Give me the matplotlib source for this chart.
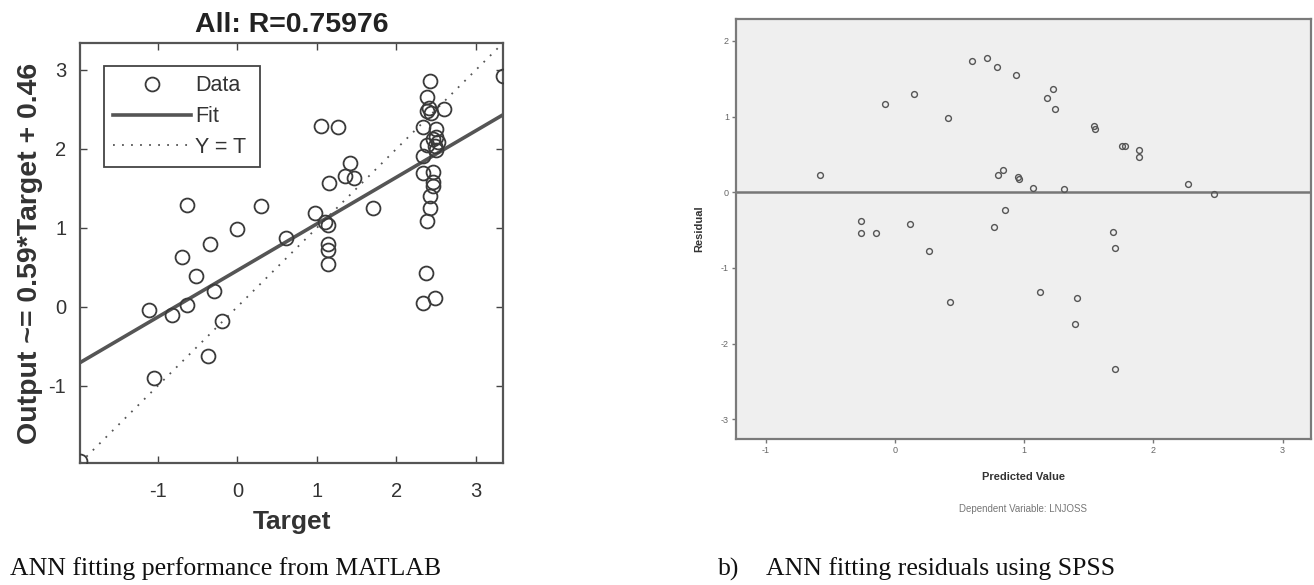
import matplotlib
matplotlib.use("Agg")
import matplotlib.pyplot as plt
from matplotlib.lines import Line2D
import numpy as np

plt.rcParams["axes.unicode_minus"] = False

# ---- Panel a: network output vs. target ----
target = [-1.98, -1.05, -1.11, -0.82, -0.63, -0.37, -0.20, -0.29, -0.52, -0.70,
          -0.35, 0.00, -0.63, 0.30, 0.61, 0.98, 1.10, 1.14, 1.14, 1.14,
          1.14, 1.15, 1.35, 1.46, 1.41, 1.05, 1.27, 1.70,
          2.42, 2.39, 2.41, 2.38, 2.43, 2.60, 2.34, 2.50, 2.50, 2.52,
          2.46, 2.48, 2.39, 2.33, 2.50, 2.34, 2.46, 2.46, 2.46, 2.42,
          2.42, 2.39, 2.37, 2.34, 2.48, 3.34]
output = [-1.95, -0.90, -0.04, -0.10, 0.02, -0.62, -0.18, 0.20, 0.39, 0.63,
          0.80, 0.99, 1.29, 1.27, 0.87, 1.19, 1.07, 1.03, 0.80, 0.72,
          0.54, 1.57, 1.65, 1.63, 1.82, 2.29, 2.28, 1.25,
          2.86, 2.65, 2.52, 2.48, 2.45, 2.50, 2.27, 2.25, 2.15, 2.09,
          2.12, 2.03, 2.05, 1.91, 1.98, 1.69, 1.71, 1.58, 1.53, 1.40,
          1.25, 1.08, 0.43, 0.05, 0.11, 2.92]
fit_slope = 0.59
fit_intercept = 0.46
r_value = 0.75976
lim_a = [-1.98, 3.34]
ticks_a = [-1, 0, 1, 2, 3]

# ---- Panel b: residuals vs. predicted value ----
predicted = [-0.58, -0.08, 0.15, 0.41, 0.60, 0.71, 0.79, 0.94, 0.80, 0.84,
             0.95, 0.96, 0.85, 0.77, -0.26, -0.26, -0.15, 0.12, 0.26, 0.43,
             1.22, 1.18, 1.24, 1.54, 1.55, 1.76, 1.78, 1.89, 1.89, 2.27,
             2.47, 1.07, 1.31, 1.69, 1.70, 1.12, 1.41, 1.39, 1.70]
residual = [0.23, 1.17, 1.30, 0.98, 1.74, 1.77, 1.65, 1.55, 0.23, 0.30,
            0.20, 0.17, -0.23, -0.46, -0.38, -0.54, -0.54, -0.42, -0.78, -1.45,
            1.36, 1.25, 1.10, 0.88, 0.83, 0.61, 0.61, 0.56, 0.46, 0.11,
            -0.02, 0.06, 0.04, -0.52, -0.73, -1.32, -1.40, -1.74, -2.33]
xlim_b = [-1.23, 3.22]
ylim_b = [-3.26, 2.29]
xticks_b = [-1, 0, 1, 2, 3]
yticks_b = [-3, -2, -1, 0, 1, 2]

fig = plt.figure(figsize=(13.14, 5.85), dpi=100)
fig.patch.set_facecolor("white")
sans = ["Liberation Sans", "DejaVu Sans"]
serif = ["Liberation Serif", "DejaVu Serif"]

# ---------------- left panel ----------------
ax1 = fig.add_axes([0.0609, 0.2085, 0.3219, 0.718])
ax1.plot(target, output, linestyle="none", marker="o", markersize=10,
         markerfacecolor="none", markeredgecolor="#3a3a3a", markeredgewidth=1.3,
         zorder=3)
xx = np.array(lim_a)
dotted = (0, (1, 4))
ax1.plot(xx, fit_slope * xx + fit_intercept, color="#555555", lw=2.6, zorder=2)
ax1.plot(xx, xx, color="#555555", lw=1.3, linestyle=dotted, zorder=2)
ax1.set_xlim(lim_a)
ax1.set_ylim(lim_a)
ax1.set_xticks(ticks_a)
ax1.set_yticks(ticks_a)
ax1.tick_params(direction="in", top=True, right=True, length=5, width=1,
                colors="#444444", labelsize=14.5)
ax1.tick_params(axis="x", pad=14)
ax1.tick_params(axis="y", pad=10)
for lab in ax1.get_xticklabels() + ax1.get_yticklabels():
    lab.set_family(sans)
    lab.set_color("#333333")
for sp in ax1.spines.values():
    sp.set_color("#555555")
    sp.set_linewidth(1.6)
ax1.set_title(f"All: R={r_value}", fontsize=20.5, fontweight="bold",
              family=sans, color="#222222", pad=8)
ax1.set_xlabel("Target", fontsize=19, fontweight="bold", family=sans,
               color="#333333", labelpad=6)
ax1.set_ylabel(f"Output ~= {fit_slope}*Target + {fit_intercept}", fontsize=20.5,
               fontweight="bold", family=sans, color="#333333", labelpad=4)

handles = [
    Line2D([], [], linestyle="none", marker="o", markersize=10,
           markerfacecolor="none", markeredgecolor="#3a3a3a", markeredgewidth=1.3),
    Line2D([], [], color="#555555", lw=2.6),
    Line2D([], [], color="#555555", lw=1.3, linestyle=dotted),
]
leg = ax1.legend(handles, ["Data", "Fit", "Y = T"], loc="upper left",
                 bbox_to_anchor=(0.057, 0.5, 0.369, 0.445), mode="expand",
                 frameon=True, fancybox=False, framealpha=1,
                 edgecolor="#444444", handlelength=3.6, handletextpad=0.2,
                 borderpad=0.42, labelspacing=0.46, borderaxespad=0,
                 prop={"family": sans, "size": 15.5})
leg.get_frame().set_linewidth(1.3)
for t in leg.get_texts():
    t.set_color("#333333")

# ---------------- right panel ----------------
ax2 = fig.add_axes([0.5601, 0.2496, 0.4376, 0.7179])
ax2.set_facecolor("#efefef")
ax2.axhline(0, color="#777777", lw=1.8, zorder=1)
ax2.plot(predicted, residual, linestyle="none", marker="o", markersize=4.2,
         markerfacecolor="none", markeredgecolor="#555555", markeredgewidth=1.0,
         zorder=3)
ax2.set_xlim(xlim_b)
ax2.set_ylim(ylim_b)
ax2.set_xticks(xticks_b)
ax2.set_yticks(yticks_b)
ax2.tick_params(direction="out", length=3, width=1, colors="#777777",
                labelsize=6.5, pad=2)
for lab in ax2.get_xticklabels() + ax2.get_yticklabels():
    lab.set_family(sans)
    lab.set_color("#666666")
for sp in ax2.spines.values():
    sp.set_color("#7a7a7a")
    sp.set_linewidth(1.6)
ax2.set_xlabel("Predicted Value", fontsize=8, fontweight="bold", family=sans,
               color="#333333", labelpad=12)
ax2.set_ylabel("Residual", fontsize=8, fontweight="bold", family=sans,
               color="#333333", labelpad=12)
fig.text(1023 / 1314, 1 - 509 / 585, "Dependent Variable: LNJOSS", fontsize=7,
         family=sans, color="#777777", ha="center", va="center")

# ---------------- captions ----------------
fig.text(10 / 1314, 1 - 569 / 585, "ANN fitting performance from MATLAB",
         fontsize=18.5, family=serif, color="#111111", ha="left", va="center")
fig.text(718 / 1314, 1 - 569 / 585, "b)", fontsize=18.5, family=serif,
         color="#111111", ha="left", va="center")
fig.text(766 / 1314, 1 - 569 / 585, "ANN fitting residuals using SPSS",
         fontsize=18.5, family=serif, color="#111111", ha="left", va="center")

fig.savefig("out.png", dpi=100, facecolor="white")
